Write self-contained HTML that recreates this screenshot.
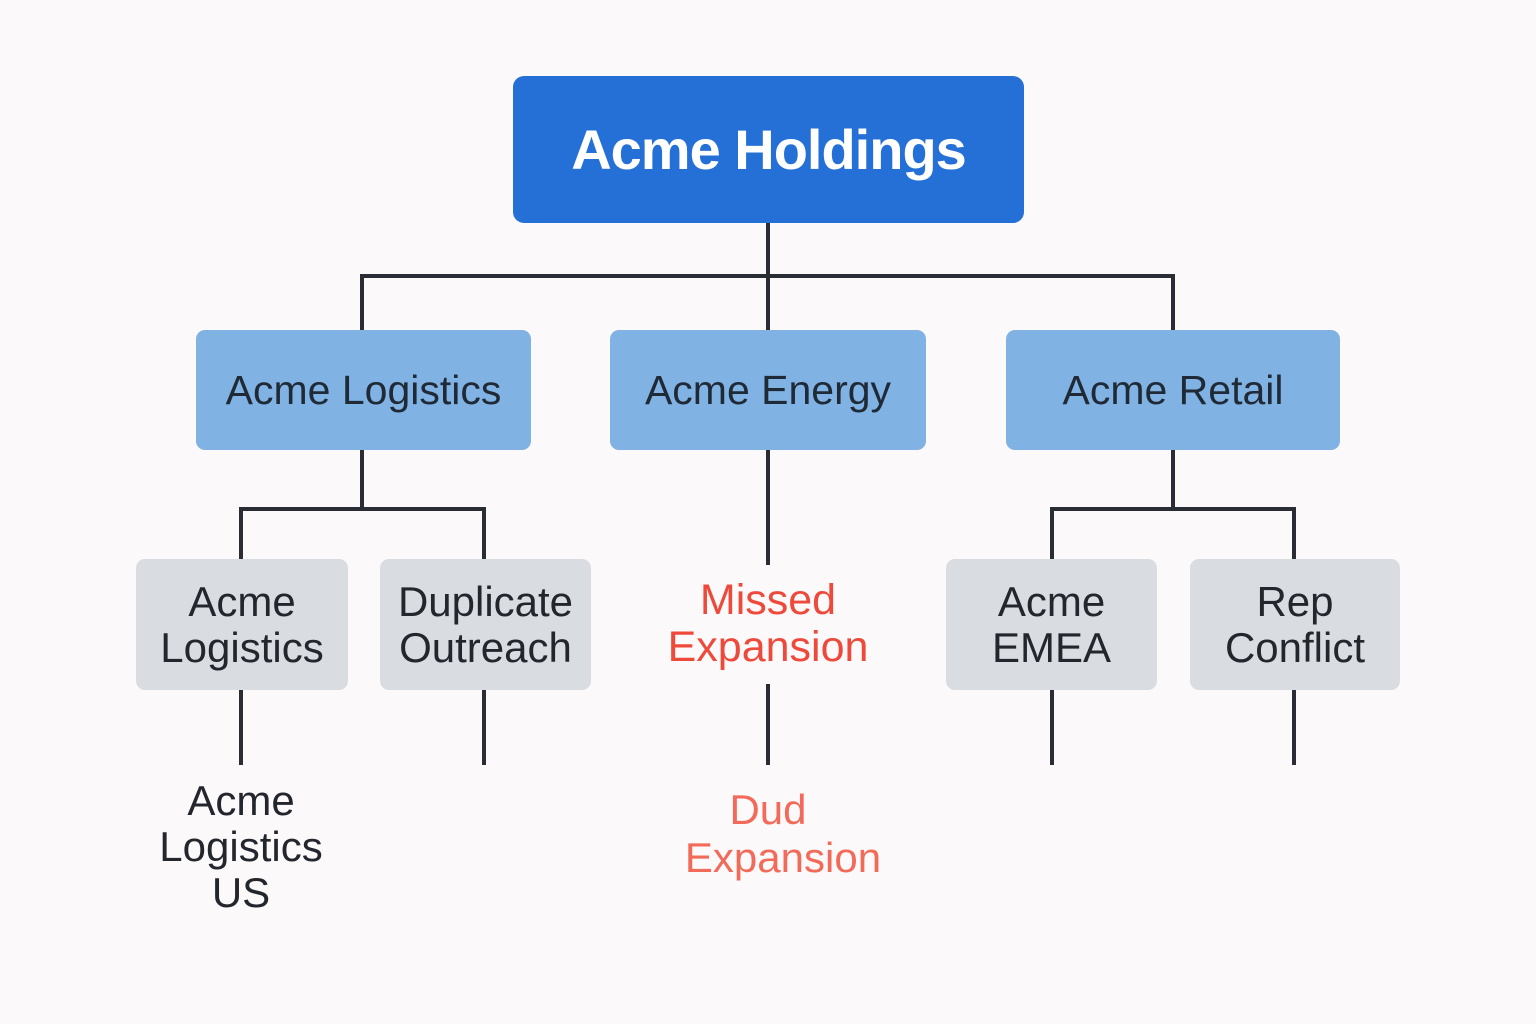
<!DOCTYPE html>
<html><head><meta charset="utf-8"><style>
body{margin:0;width:1536px;height:1024px;background:#fcf9fa;position:relative;overflow:hidden;font-family:"Liberation Sans",sans-serif}
.b{position:absolute;display:flex;align-items:center;justify-content:center;text-align:center;box-sizing:border-box}
.t{position:absolute;text-align:center;line-height:47px;font-size:43px}
</style></head><body>
<svg width="1536" height="1024" style="position:absolute;left:0;top:0" fill="none" stroke="#2a2d33" stroke-width="4">
<path d="M768 222V330M362 330V276H1173V330"/>
<path d="M362 449V509M241 559V509H484V559"/>
<path d="M1173 449V509M1052 559V509H1294V559"/>
<path d="M768 449V565M768 684V765"/>
<path d="M241 689V765M484 689V765M1052 689V765M1294 689V765"/>
</svg>
<div class="b" style="left:513px;top:76px;width:511px;height:147px;background:#2570d6;border-radius:11px;color:#fff;font-size:56px;font-weight:bold;letter-spacing:-1px">Acme Holdings</div>
<div class="b" style="left:196px;top:330px;width:335px;height:120px;background:#80b2e3;border-radius:9px;color:#1f2a36;font-size:41px">Acme Logistics</div>
<div class="b" style="left:610px;top:330px;width:316px;height:120px;background:#80b2e3;border-radius:9px;color:#1f2a36;font-size:41px">Acme Energy</div>
<div class="b" style="left:1006px;top:330px;width:334px;height:120px;background:#80b2e3;border-radius:9px;color:#1f2a36;font-size:41px">Acme Retail</div>
<div class="b" style="left:136px;top:559px;width:212px;height:131px;background:#d9dce1;border-radius:9px;color:#23272d;font-size:42px;line-height:46px">Acme<br>Logistics</div>
<div class="b" style="left:380px;top:559px;width:211px;height:131px;background:#d9dce1;border-radius:9px;color:#23272d;font-size:42px;line-height:46px">Duplicate<br>Outreach</div>
<div class="b" style="left:946px;top:559px;width:211px;height:131px;background:#d9dce1;border-radius:9px;color:#23272d;font-size:42px;line-height:46px">Acme<br>EMEA</div>
<div class="b" style="left:1190px;top:559px;width:210px;height:131px;background:#d9dce1;border-radius:9px;color:#23272d;font-size:42px;line-height:46px">Rep<br>Conflict</div>
<div class="t" style="left:618px;top:577px;width:300px;color:#ee4a3c">Missed<br>Expansion</div>
<div class="t" style="left:91px;top:778px;width:300px;color:#23272d;line-height:46px;font-size:42px">Acme<br>Logistics<br>US</div>
<div class="t" style="left:618px;top:786px;width:300px;color:#f26b5a;font-size:42px">Dud</div>
<div class="t" style="left:633px;top:834px;width:300px;color:#f26b5a;font-size:42px">Expansion</div>
</body></html>
